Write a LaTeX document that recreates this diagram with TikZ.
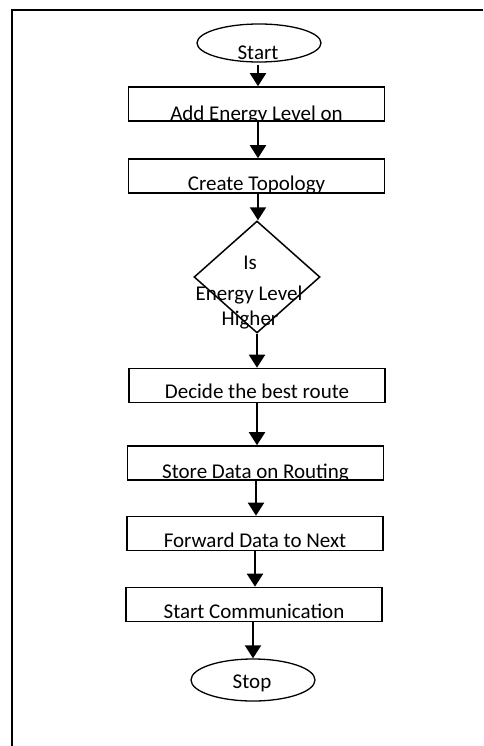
\documentclass[tikz,border=0pt]{standalone}
\usepackage{fontspec}
\setmainfont{Carlito}
\usetikzlibrary{shapes.geometric,arrows.meta}
\newcommand\lbl{\fontsize{21pt}{25pt}\selectfont}
% text set on a baseline just above the bottom edge of a box, clipped by the box
\newcommand\boxtext[4]{%
  \begin{scope}
    \clip (#2.south west) rectangle (#2.north east);
    \node[lbl, anchor=base] (#1) at ([yshift=#3]#2.south) {#4};
  \end{scope}}
\tikzset{
  lbl/.style={inner sep=0pt, font=\lbl, text=black},
  stepbox/.style={draw, line width=1.6pt, rectangle, inner sep=0pt,
    minimum width=256pt, minimum height=34pt},
  terminal/.style={draw, line width=1.3pt, ellipse, inner sep=0pt,
    minimum width=124pt, minimum height=38pt},
  decision/.style={draw, line width=1.5pt, diamond, inner sep=0pt,
    minimum width=126pt, minimum height=112pt},
  flow/.style={line width=2pt, -{Triangle[width=16pt,length=13pt]}},
  frame/.style={line width=2pt}
}
\begin{document}
\begin{tikzpicture}[x=1pt, y=-1pt]
\useasboundingbox (0,0) rectangle (483,746);
\draw[frame] (12.3,746) -- (12.3,10) -- (483,10);

% start terminal
\node[terminal] (start) at (259,43) {};
\node[lbl, anchor=base] (tstart) at (258,60) {Start};

% process boxes
\node[stepbox] (b1) at (256.5,104) {};
\boxtext{t1}{b1}{1pt}{Add Energy Level on}
\node[stepbox] (b2) at (256.5,176) {};
\boxtext{t2}{b2}{3pt}{Create Topology}

% decision
\node[decision] (d) at (257,277) {};
\node[lbl, anchor=base] (dq1) at (250,269) {Is};
\node[lbl, anchor=base] (dq2) at (249,300) {Energy Level};
\node[lbl, anchor=base] (dq3) at (250,325) {Higher};

\node[stepbox] (b3) at (257,385.5) {};
\boxtext{t3}{b3}{5pt}{Decide the best route}
\node[stepbox] (b4) at (255.5,463) {};
\boxtext{t4}{b4}{2pt}{Store Data on Routing}
\node[stepbox] (b5) at (255,533.5) {};
\boxtext{t5}{b5}{4pt}{Forward Data to Next}
\node[stepbox] (b6) at (254,604.5) {};
\boxtext{t6}{b6}{4pt}{Start Communication}

% stop terminal
\node[terminal, minimum height=42pt] (stop) at (253,680) {};
\node[lbl, anchor=base] (tstop) at (252,688) {Stop};

% connectors
\draw[flow] ([xshift=-1pt,yshift=-2pt]start.south) -- ([xshift=-1pt]start.south |- b1.north);
\draw[flow] ([xshift=1.5pt]b1.south) -- ([xshift=1.5pt]b1.south |- b2.north);
\draw[flow] ([xshift=1.5pt]b2.south) -- ([xshift=1.5pt]b2.south |- d.north);
\draw[flow] (d.south) -- (d.south |- b3.north);
\draw[flow] (b3.south) -- (b3.south |- b4.north);
\draw[flow] ([xshift=0.5pt]b4.south) -- ([xshift=0.5pt]b4.south |- b5.north);
\draw[flow] (b5.south) -- (b5.south |- b6.north);
\draw[flow] ([xshift=-1pt]b6.south) -- ([xshift=-1pt]b6.south |- stop.north);
\end{tikzpicture}
\end{document}
